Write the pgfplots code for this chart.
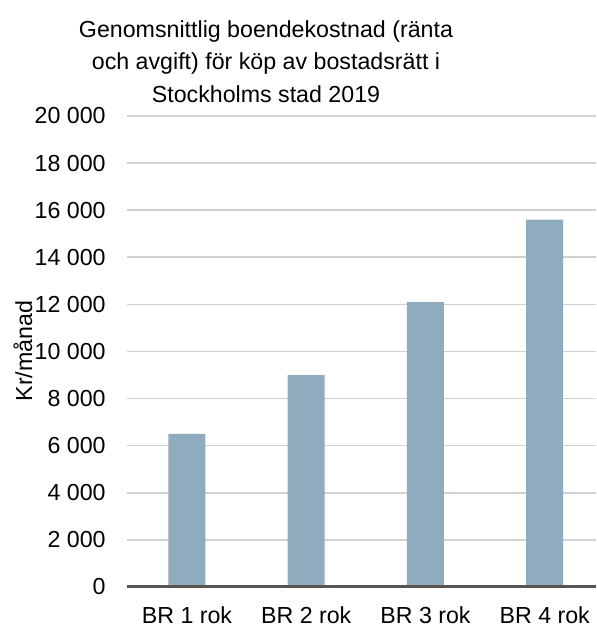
\documentclass[border=0pt]{standalone}
\usepackage{fontspec}
\setmainfont{Liberation Sans}
\usepackage{pgfplots}
\pgfplotsset{compat=1.18}
\definecolor{barc}{RGB}{143,171,190}
\definecolor{gridc}{RGB}{212,208,205}
\definecolor{axc}{RGB}{89,84,80}
\newcommand{\cf}{\fontsize{11.6}{16.2}\selectfont}
\begin{document}
\begin{tikzpicture}[x=1pt,y=1pt]
\path[use as bounding box] (0,0) rectangle (298,313);
\begin{axis}[
  at={(63.5pt,19.5pt)}, anchor=south west,
  scale only axis, width=234.5pt, height=235.5pt,
  xmin=-0.503, xmax=3.43, ymin=0, ymax=20000,
  ybar, bar width=18.5pt,
  scaled y ticks=false,
  axis line style={draw=none},
  major tick length=0pt,
  xtick={0,1,2,3},
  xticklabels={BR 1 rok,BR 2 rok,BR 3 rok,BR 4 rok},
  ytick={0,2000,4000,6000,8000,10000,12000,14000,16000,18000,20000},
  yticklabels={0,2~000,4~000,6~000,8~000,10~000,12~000,14~000,16~000,18~000,20~000},
  ymajorgrids, grid style={gridc, line width=0.8pt},
  every tick label/.append style={font=\cf, text=black},
  yticklabel style={inner sep=0pt, anchor=east, xshift=-10.5pt},
  xticklabel style={inner sep=0pt, anchor=north, yshift=-9.8pt},
  clip=false,
]
\addplot[fill=barc, draw=none] coordinates {(0,6500) (1,9000) (2,12100) (3,15600)};
\draw[axc, line width=1.5pt] (rel axis cs:0,0) -- (rel axis cs:1,0);
\end{axis}
\node[rotate=90, font=\cf, inner sep=0pt] at (11.5,137.5) {Kr/månad};
\node[align=center, font=\cf, anchor=north, inner sep=0pt] at (133,303) {Genomsnittlig boendekostnad (ränta\\och avgift) för köp av bostadsrätt i\\Stockholms stad 2019};
\end{tikzpicture}
\end{document}
